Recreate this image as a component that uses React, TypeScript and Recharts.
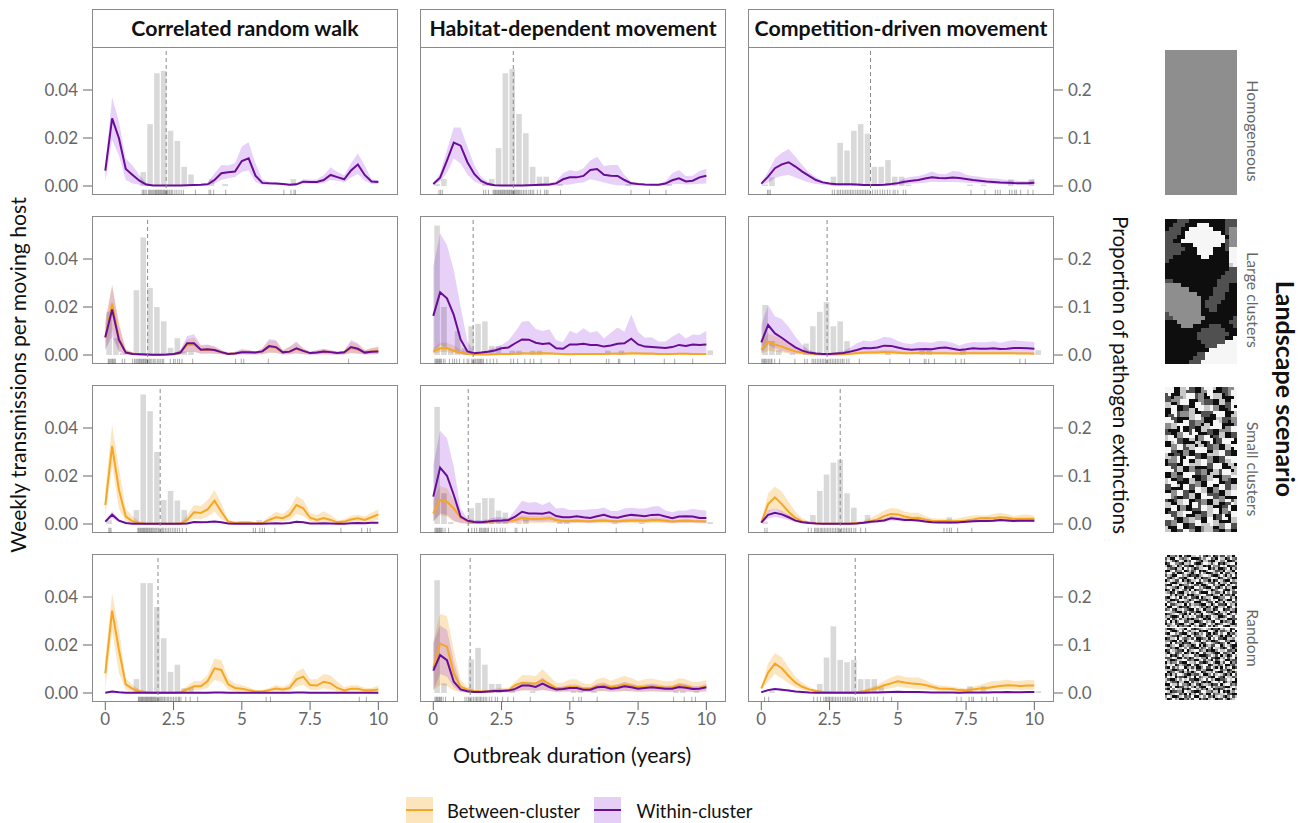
import React from "react";
import {
  Area,
  Bar,
  ComposedChart,
  Line,
  ReferenceLine,
  Scatter,
  ScatterChart,
  XAxis,
  YAxis,
} from "recharts";

const COLS = ["Correlated random walk", "Habitat-dependent movement", "Competition-driven movement"];
const ROWS = ["Homogeneous", "Large clusters", "Small clusters", "Random"];
const LEFT_TICKS = [0, 0.02, 0.04];
const RIGHT_TICKS = [0, 0.1, 0.2];
const X_TICKS = [0, 2.5, 5, 7.5, 10];
const YEARS = [0, 0.25, 0.5, 0.75, 1, 1.25, 1.5, 1.75, 2, 2.25, 2.5, 2.75, 3, 3.25, 3.5, 3.75, 4, 4.25, 4.5, 4.75, 5, 5.25, 5.5, 5.75, 6, 6.25, 6.5, 6.75, 7, 7.25, 7.5, 7.75, 8, 8.25, 8.5, 8.75, 9, 9.25, 9.5, 9.75, 10];
const BINS = [0.125, 0.375, 0.625, 0.875, 1.125, 1.375, 1.625, 1.875, 2.125, 2.375, 2.625, 2.875, 3.125, 3.375, 3.625, 3.875, 4.125, 4.375, 4.625, 4.875, 5.125, 5.375, 5.625, 5.875, 6.125, 6.375, 6.625, 6.875, 7.125, 7.375, 7.625, 7.875, 8.125, 8.375, 8.625, 8.875, 9.125, 9.375, 9.625, 9.875, 10.125];
const RUG_LEVEL = -0.0026;

const medians = [
  [2.23, 2.93, 4.0],
  [1.55, 1.46, 2.41],
  [2.01, 1.28, 2.89],
  [1.93, 1.35, 3.44],
];

// row 1, correlated random walk
const crwHomWMean = [.0064,.0282,.0199,.0071,.0046,.0022,.0006,.0002,.0002,.0002,.0002,.0002,.0003,.0004,.0005,.0007,.0025,.0053,.0057,.006,.0104,.0115,.0043,.0013,.0011,.001,.0008,.0005,.0007,.0018,.0017,.0017,.0025,.0046,.0037,.0028,.0065,.009,.0046,.0019,.0017];
const crwHomWHigh = [.0085,.037,.0268,.0115,.0085,.0045,.0012,.0004,.0004,.0004,.0004,.0004,.0004,.0006,.0008,.0015,.0052,.0088,.0085,.0095,.0165,.0182,.0095,.0027,.0017,.0015,.0013,.0008,.001,.0028,.0027,.0027,.0045,.0078,.0058,.0045,.0095,.0135,.0085,.0028,.0024];
const crwHomWLow = [.0018,.0192,.0127,.0025,.001,.0005,.0001,.0001,.0001,.0001,.0001,.0001,.0001,.0001,.0001,.0004,.001,.0025,.0032,.0037,.0058,.0065,.0017,.0005,.0005,.0005,.0004,.0002,.0003,.0009,.0009,.0008,.0012,.0025,.0022,.0015,.0035,.005,.0022,.0008,.0008];
const crwHomBars = [[1.375,.029],[1.625,.129],[1.875,.235],[2.125,.24],[2.375,.115],[2.625,.094],[2.875,.04],[3.125,.024],[3.875,.014],[4.375,.004],[6.875,.0146]];
const crwHomRug = [1.35,1.4,1.45,1.5,1.58,1.62,1.66,1.7,1.74,1.78,1.82,1.85,1.88,1.92,1.95,1.99,2.02,2.06,2.1,2.13,2.17,2.2,2.24,2.28,2.33,2.37,2.42,2.47,2.55,2.62,2.7,2.78,2.86,3.3,3.8,3.86,3.97,4.41,6.54,6.8,6.91,6.96];

// row 1, habitat-dependent
const habHomWMean = [.0008,.0035,.0106,.0181,.0168,.0099,.005,.0021,.0008,.0003,.0002,.0002,.0002,.0002,.0003,.0004,.0005,.0006,.0011,.0028,.0036,.0036,.0042,.0067,.0071,.0047,.0043,.0042,.0025,.0011,.0008,.0006,.0005,.0005,.001,.0024,.0032,.0019,.0022,.0036,.0043];
const habHomWHigh = [.0011,.0053,.015,.0244,.0244,.0164,.0087,.0039,.0018,.0006,.0004,.0004,.0004,.0004,.0006,.0009,.0012,.0013,.002,.0053,.0067,.006,.0074,.0106,.0122,.0083,.0087,.0087,.0046,.0018,.0011,.0008,.0008,.0008,.0019,.0053,.0067,.0042,.0043,.0062,.0072];
const habHomWLow = [.0004,.002,.0055,.0115,.0094,.0048,.0019,.0007,.0002,.0001,.0001,.0001,.0001,.0001,.0001,.0001,.0001,.0001,.0002,.0005,.0006,.0011,.0015,.0028,.0022,.0015,.0007,.0003,.0002,.0002,.0002,.0002,.0001,.0001,.0002,.0007,.0008,.0006,.0007,.0009,.001];
const habHomBars = [[.125,.004],[.375,.0146],[1.875,.005],[2.125,.0146],[2.375,.079],[2.625,.235],[2.875,.244],[3.125,.15],[3.375,.11],[3.625,.04],[3.875,.0195],[4.125,.0195],[4.625,.004],[7.125,.004],[8.625,.004]];
const habHomRug = [.21,.27,.33,1.84,1.92,2.02,2.19,2.23,2.27,2.3,2.34,2.38,2.41,2.45,2.48,2.52,2.55,2.59,2.62,2.66,2.7,2.73,2.77,2.8,2.84,2.87,2.91,2.95,2.98,3.02,3.06,3.1,3.14,3.18,3.24,3.3,3.36,3.42,3.5,3.56,3.62,3.68,3.81,3.92,4.08,4.14,4.2,4.66,7.24,7.92,8.52];

// row 1, competition-driven
const compHomWMean = [.001,.0039,.0074,.009,.0099,.0081,.006,.0042,.0025,.0015,.001,.0007,.0007,.0007,.0006,.0004,.0004,.0004,.0005,.0008,.0012,.0018,.0022,.0025,.0031,.0036,.0033,.0032,.0035,.0033,.0029,.0025,.0022,.0019,.0017,.0015,.0014,.0012,.0011,.0011,.0014];
const compHomWHigh = [.0012,.006,.0115,.0139,.0154,.0122,.0087,.0056,.0036,.0022,.0012,.0009,.0009,.0009,.0008,.0006,.0006,.0006,.0007,.0011,.0018,.0032,.0039,.0042,.0049,.006,.005,.0049,.0062,.006,.0047,.0042,.0039,.0033,.0032,.0029,.0025,.0024,.0021,.0021,.0028];
const compHomWLow = [.0004,.0015,.0033,.0042,.0046,.0035,.0024,.0015,.0008,.0005,.0003,.0003,.0003,.0003,.0003,.0002,.0002,.0002,.0003,.0003,.0004,.0007,.0009,.0011,.0014,.0018,.0017,.0017,.0017,.0016,.0014,.0012,.001,.0009,.0008,.0007,.0006,.0006,.0005,.0005,.0006];
const compHomBars = [[.125,.003],[.375,.018],[2.625,.0195],[2.875,.09],[3.125,.074],[3.375,.115],[3.625,.129],[3.875,.109],[4.125,.04],[4.375,.04],[4.625,.054],[4.875,.0195],[5.125,.0195],[5.375,.003],[7.625,.003],[8.125,.003],[9.125,.014],[9.875,.014]];
const compHomRug = [.23,.28,.33,2.6,2.68,2.78,2.84,2.9,2.97,3.03,3.09,3.15,3.21,3.27,3.33,3.39,3.46,3.52,3.58,3.64,3.7,3.76,3.82,3.88,3.95,4.07,4.17,4.25,4.35,4.44,4.52,4.62,4.71,4.83,4.9,5.0,5.2,5.29,7.68,8.19,8.57,8.66,8.75,9.09,9.18,9.28,9.34,9.5,9.77,9.95];

// row 2, correlated random walk
const crwLargeWMean = [.0074,.019,.0063,.001,.0004,.0003,.0002,.0001,.0001,.0002,.0004,.001,.0049,.0049,.0022,.0024,.0021,.0012,.0004,.0006,.0011,.0011,.001,.0015,.0037,.0033,.0011,.0014,.0028,.0017,.0008,.001,.0015,.0012,.0008,.0011,.0033,.0026,.001,.0014,.0015];
const crwLargeWHigh = [.0132,.0288,.0125,.0021,.001,.0006,.0004,.0003,.0003,.0004,.0006,.0021,.0079,.0086,.0042,.0044,.0035,.0021,.001,.0014,.0025,.0021,.0014,.0028,.0067,.0063,.0021,.0035,.0056,.0028,.0014,.0021,.0026,.0021,.0014,.0018,.0063,.0049,.0021,.0028,.0032];
const crwLargeWLow = [.002,.0076,.0014,.0002,.0001,.0001,.0001,.0001,.0001,.0001,.0001,.0003,.0014,.0014,.0006,.0006,.0005,.0003,.0001,.0001,.0003,.0002,.0002,.0003,.001,.0009,.0002,.0003,.0007,.0003,.0001,.0002,.0003,.0002,.0001,.0002,.0008,.0006,.0002,.0003,.0003];
const crwLargeBMean = [.0072,.0215,.0069,.0012,.0005,.0003,.0002,.0001,.0001,.0002,.0003,.0009,.0042,.0043,.0021,.0022,.002,.0011,.0004,.0006,.0011,.001,.001,.0014,.0033,.003,.0011,.0014,.0026,.0016,.0008,.001,.0014,.0011,.0008,.001,.0028,.0023,.001,.0015,.0018];
const crwLargeBHigh = [.014,.0296,.0135,.0025,.0011,.0006,.0004,.0003,.0003,.0004,.0006,.002,.0065,.0072,.0038,.0042,.0035,.002,.0009,.0013,.0023,.002,.0014,.0026,.006,.0058,.0018,.0033,.0052,.0027,.0013,.002,.0025,.002,.0013,.002,.0055,.0045,.002,.003,.0036];
const crwLargeBLow = [.0022,.0105,.0017,.0003,.0001,.0001,.0001,.0001,.0001,.0001,.0001,.0003,.0012,.0012,.0005,.0006,.0005,.0003,.0001,.0001,.0003,.0002,.0002,.0003,.0009,.0008,.0002,.0003,.0006,.0003,.0001,.0002,.0003,.0002,.0001,.0002,.0007,.0005,.0002,.0003,.0004];
const crwLargeBars = [[.125,.09],[.375,.035],[.625,.004],[1.125,.135],[1.375,.245],[1.625,.14],[1.875,.1],[2.125,.07],[2.375,.015],[2.625,.035],[2.875,.007],[3.125,.007]];
const crwLargeRug = [.11,.14,.18,.22,.26,.29,.33,.37,.62,.71,1.0,1.07,1.12,1.16,1.2,1.24,1.27,1.31,1.34,1.38,1.41,1.45,1.48,1.52,1.55,1.6,1.64,1.68,1.75,1.79,1.85,1.92,1.97,2.03,2.09,2.14,2.38,2.5,2.56,2.65,2.72,2.81,3.2,4.77,4.98,5.07,5.97,8.91];

// row 2, habitat-dependent
const habLargeWMean = [.0163,.0261,.0236,.0167,.0065,.0015,.0007,.001,.0014,.0019,.0028,.0031,.0049,.0065,.0064,.0051,.0046,.0049,.0028,.0026,.0044,.0044,.0047,.0042,.0042,.0035,.004,.0047,.0049,.0068,.0044,.0035,.0033,.0031,.0029,.0033,.0042,.0038,.0044,.0042,.0044];
const habLargeWHigh = [.0368,.0507,.0458,.0354,.0201,.0056,.0014,.0011,.0021,.0031,.0042,.006,.0097,.0139,.0142,.0108,.01,.0107,.0063,.0053,.0101,.009,.0111,.0093,.01,.0069,.0093,.0115,.0097,.0169,.0097,.0072,.0074,.0056,.0056,.0076,.0093,.0069,.0085,.0083,.0101];
const habLargeWLow = [.0014,.0042,.0028,.0014,.0005,.0002,.0001,.0002,.0002,.0004,.0005,.0006,.0006,.0007,.001,.001,.0009,.0008,.0008,.0004,.0004,.0008,.0008,.0008,.0007,.0006,.0007,.0008,.0008,.0012,.0007,.0005,.0005,.0005,.0005,.0005,.0007,.0006,.0008,.0008,.0009];
const habLargeBMean = [.0014,.0028,.0028,.0018,.001,.0004,.0002,.0002,.0002,.0003,.0004,.0004,.0005,.0006,.0006,.0006,.0007,.0006,.0005,.0004,.0003,.0004,.0004,.0004,.0004,.0004,.0005,.0005,.0005,.0007,.0006,.0005,.0005,.0004,.0004,.0004,.0005,.0005,.0004,.0004,.0004];
const habLargeBHigh = [.0028,.0051,.0051,.004,.0022,.0009,.0004,.0003,.0004,.0006,.0007,.0008,.0009,.0012,.0012,.0012,.0013,.0012,.0009,.0007,.0006,.0008,.0008,.0008,.0008,.0008,.001,.0011,.001,.0014,.0012,.0012,.0012,.0008,.0007,.0008,.0009,.0009,.0008,.0007,.0007];
const habLargeBLow = [.0005,.0012,.0012,.0006,.0003,.0001,.0001,.0001,.0001,.0001,.0001,.0001,.0001,.0002,.0002,.0002,.0002,.0002,.0001,.0001,.0001,.0001,.0001,.0001,.0001,.0001,.0002,.0002,.0002,.0002,.0002,.0001,.0001,.0001,.0001,.0001,.0001,.0001,.0001,.0001,.0001];
const habLargeBars = [[.125,.27],[.375,.1],[.625,.01],[.875,.05],[1.125,.014],[1.375,.06],[1.625,.065],[1.875,.07],[2.125,.019],[2.375,.019],[2.875,.009],[3.125,.009],[3.625,.009],[3.875,.009],[6.375,.009],[6.875,.009],[10.125,.0097]];
const habLargeRug = [.06,.1,.13,.16,.2,.23,.26,.3,.37,.43,.59,.71,.78,.86,.96,1.12,1.24,1.3,1.41,1.46,1.5,1.55,1.6,1.64,1.68,1.72,1.75,1.79,1.84,1.96,2.08,2.2,2.33,2.84,2.94,3.09,3.35,3.55,3.68,3.95,4.6,5.02,6.34,6.43,6.78,6.83,7.37,8.46,8.84,9.5];

// row 2, competition-driven
const compLargeWMean = [.0053,.0125,.009,.0072,.0051,.0032,.0018,.001,.0006,.0004,.0004,.0006,.0008,.0014,.0021,.0029,.0028,.0031,.0039,.0038,.0031,.0025,.0022,.0024,.0025,.0024,.0029,.0031,.0026,.0021,.0024,.0028,.0026,.0026,.0028,.0025,.0026,.0029,.0029,.0028,.0026];
const compLargeWHigh = [.0125,.0208,.016,.015,.0118,.0076,.0042,.0021,.0011,.0007,.0007,.0011,.0017,.0031,.0049,.006,.0056,.0064,.0076,.0072,.0058,.0049,.0046,.0054,.0053,.0051,.0058,.0057,.0051,.004,.0049,.0054,.0053,.0053,.0057,.0051,.0057,.0061,.0058,.0056,.0054];
const compLargeWLow = [.0007,.0042,.0028,.0017,.001,.0006,.0003,.0002,.0001,.0001,.0001,.0001,.0002,.0003,.0005,.0007,.0007,.0008,.001,.001,.0008,.0006,.0006,.0006,.0006,.0006,.0007,.0007,.0006,.0005,.0006,.0007,.0006,.0006,.0007,.0006,.0006,.0007,.0007,.0007,.0006];
const compLargeBMean = [.0021,.0054,.0044,.0035,.0024,.0015,.001,.0006,.0003,.0002,.0002,.0002,.0003,.0005,.0007,.0009,.001,.001,.0012,.0011,.0009,.0007,.0007,.0008,.0008,.0007,.0007,.0007,.0006,.0006,.0007,.0007,.0007,.0007,.0007,.0007,.0007,.0007,.0006,.0006,.0005];
const compLargeBHigh = [.0056,.009,.0079,.0069,.0051,.0035,.0021,.0012,.0007,.0004,.0004,.0005,.0007,.0011,.0015,.0018,.0019,.002,.0022,.0021,.0018,.0015,.0014,.0016,.0015,.0014,.0014,.0014,.0013,.0012,.0014,.0014,.0014,.0014,.0014,.0014,.0014,.0013,.0012,.0012,.001];
const compLargeBLow = [.0005,.0018,.0014,.001,.0006,.0004,.0002,.0001,.0001,.0001,.0001,.0001,.0001,.0001,.0002,.0002,.0002,.0002,.0002,.0002,.0002,.0002,.0002,.0002,.0002,.0002,.0002,.0002,.0002,.0002,.0002,.0002,.0002,.0002,.0002,.0002,.0002,.0002,.0002,.0002,.0002];
const compLargeBars = [[.125,.104],[.375,.029],[.625,.01],[1.125,.004],[1.625,.024],[1.875,.06],[2.125,.09],[2.375,.11],[2.625,.06],[2.875,.07],[3.125,.029],[4.625,.004],[5.875,.01],[6.125,.01],[7.375,.01],[10.125,.01]];
const compLargeRug = [.02,.06,.1,.13,.17,.21,.26,.31,.36,.39,.49,.67,1.23,1.59,1.68,1.86,1.92,1.98,2.05,2.11,2.17,2.23,2.29,2.35,2.41,2.48,2.54,2.6,2.66,2.72,2.78,2.84,2.91,2.97,3.03,3.13,3.21,3.59,4.71,5.43,5.97,6.03,6.13,6.34,7.12,7.32,7.44,9.47,9.67];

// row 3, correlated random walk
const crwSmallBMean = [.0079,.0325,.0142,.0031,.0011,.0004,.0001,.0001,.0001,.0001,.0001,.0002,.0017,.0049,.0046,.0061,.0097,.0051,.001,.0004,.0006,.0006,.0003,.0004,.0017,.0028,.0024,.0038,.0079,.0065,.0026,.0017,.0025,.0017,.0007,.001,.0019,.0024,.0017,.0028,.004];
const crwSmallBHigh = [.0142,.0413,.0232,.0065,.0031,.001,.0004,.0002,.0002,.0002,.0002,.0004,.0038,.0079,.0075,.01,.0142,.0086,.0017,.0011,.0012,.0012,.0008,.0008,.0031,.0051,.0042,.0065,.0117,.01,.0047,.0038,.0053,.0038,.0017,.0019,.0033,.0039,.0031,.0047,.0061];
const crwSmallBLow = [.0031,.0246,.0065,.001,.0003,.0001,.0001,.0001,.0001,.0001,.0001,.0001,.0005,.0022,.002,.003,.0051,.002,.0004,.0001,.0001,.0001,.0001,.0001,.0006,.0012,.001,.0017,.0042,.0033,.001,.0006,.0009,.0006,.0002,.0003,.0007,.001,.0006,.001,.0018];
const crwSmallWMean = [.001,.0039,.0014,.0004,.0001,.0001,.0001,.0001,.0001,.0001,.0001,.0001,.0002,.0008,.0007,.0008,.001,.0007,.0002,.0001,.0001,.0001,.0001,.0001,.0002,.0003,.0002,.0004,.0009,.0007,.0002,.0002,.0003,.0002,.0001,.0001,.0003,.0004,.0003,.0005,.0005];
const crwSmallWHigh = [.0017,.0053,.002,.0006,.0002,.0002,.0002,.0002,.0002,.0002,.0002,.0002,.0003,.001,.0009,.001,.0013,.0009,.0003,.0002,.0002,.0002,.0002,.0002,.0003,.0004,.0003,.0005,.0011,.0009,.0003,.0003,.0004,.0003,.0002,.0002,.0004,.0005,.0004,.0006,.0007];
const crwSmallWLow = [.0005,.0025,.0008,.0002,.0001,.0001,.0001,.0001,.0001,.0001,.0001,.0001,.0001,.0005,.0004,.0005,.0006,.0004,.0001,.0001,.0001,.0001,.0001,.0001,.0001,.0002,.0001,.0002,.0006,.0004,.0001,.0001,.0002,.0001,.0001,.0001,.0002,.0002,.0002,.0003,.0003];
const crwSmallBars = [[.125,.008],[1.125,.029],[1.375,.27],[1.625,.235],[1.875,.15],[2.125,.05],[2.375,.069],[2.625,.049],[2.875,.029],[5.625,.008]];
const crwSmallRug = [.13,.17,.21,1.19,1.22,1.26,1.29,1.33,1.36,1.4,1.43,1.46,1.5,1.53,1.56,1.6,1.63,1.67,1.7,1.74,1.78,1.82,1.86,1.9,1.95,2,2.05,2.1,2.14,2.2,2.26,2.32,2.38,2.45,2.52,2.58,2.65,2.72,2.82,2.97,5.42,5.5,5.66,5.75,5.83,6.21,8.63,9.39,9.6,9.7];

// row 3, habitat-dependent
const habSmallWMean = [.0114,.0235,.0201,.0121,.0031,.0014,.0008,.0007,.001,.0014,.0015,.0017,.0031,.0051,.0044,.0044,.0043,.0049,.0033,.0028,.0028,.0032,.0028,.0025,.0032,.0038,.0029,.0026,.0033,.0038,.0035,.0032,.0038,.0039,.0031,.0024,.0031,.0032,.0031,.0025,.0025];
const habSmallWHigh = [.0246,.0389,.0357,.0239,.0065,.0024,.0017,.0017,.0019,.0028,.0028,.0024,.0058,.0097,.0089,.0092,.0079,.0093,.0065,.0068,.0058,.0058,.0058,.0061,.0062,.0069,.0054,.0054,.0065,.0068,.0065,.0065,.0072,.0075,.0056,.0049,.0056,.0056,.0064,.0058,.0056];
const habSmallWLow = [.001,.0044,.0038,.0014,.0004,.0002,.0001,.0001,.0002,.0003,.0003,.0004,.0006,.0012,.001,.001,.0009,.0011,.0007,.0006,.0006,.0007,.0006,.0005,.0007,.0008,.0006,.0005,.0007,.0008,.0007,.0007,.0008,.0008,.0006,.0005,.0006,.0006,.0006,.0005,.0005];
const habSmallBMean = [.0044,.01,.0093,.0065,.0026,.0012,.0006,.0006,.0008,.0012,.0012,.0011,.0017,.0026,.0022,.0021,.0022,.0025,.0017,.0012,.0012,.0014,.0012,.0011,.0014,.0015,.0012,.0011,.0014,.0015,.0015,.0014,.0017,.0017,.0014,.001,.0012,.0014,.0012,.0011,.001];
const habSmallBHigh = [.01,.0158,.0149,.01,.0038,.0017,.0009,.0009,.0012,.0018,.0018,.0017,.0025,.0038,.0033,.0033,.0033,.0036,.0026,.0019,.0019,.0021,.0019,.0017,.0021,.0024,.0019,.0017,.0022,.0024,.0024,.0022,.0026,.0026,.0022,.0017,.0019,.0022,.0019,.0017,.0017];
const habSmallBLow = [.0011,.0038,.003,.001,.0003,.0001,.0001,.0001,.0001,.0002,.0002,.0002,.0003,.0005,.0004,.0004,.0004,.0005,.0003,.0003,.0003,.0003,.0003,.0002,.0003,.0003,.0003,.0002,.0003,.0003,.0003,.0003,.0004,.0004,.0003,.0002,.0003,.0003,.0003,.0002,.0002];
const habSmallBars = [[.125,.244],[.375,.064],[.625,.004],[1.375,.033],[1.625,.044],[1.875,.054],[2.125,.054],[2.375,.028],[2.625,.024],[3.125,.003],[3.375,.01],[4.625,.004],[4.875,.004],[6.625,.003],[7.625,.003],[10.125,.004]];
const habSmallRug = [.06,.1,.13,.16,.2,.23,.26,.3,.35,.43,.56,1.29,1.41,1.51,1.59,1.69,1.74,1.78,1.83,1.88,1.92,1.97,2.02,2.14,2.24,2.33,2.45,2.54,2.63,3.0,3.06,3.27,3.41,4.51,4.95,6.7,7.67];

// row 3, competition-driven
const compSmallBMean = [.0006,.0083,.0111,.0083,.0051,.0025,.0011,.0006,.0003,.0001,.0001,.0001,.0001,.0002,.0004,.0006,.0012,.0019,.0033,.0042,.004,.0031,.0025,.0026,.0019,.0014,.0012,.0012,.0011,.0012,.0015,.0019,.0024,.0025,.0024,.0028,.0026,.0021,.0022,.0022,.0022];
const compSmallBHigh = [.001,.0128,.0156,.0135,.0093,.0051,.0024,.0011,.0006,.0003,.0002,.0002,.0003,.0005,.0009,.0015,.0026,.004,.0056,.0067,.0065,.0051,.0047,.0047,.0033,.0024,.0022,.0022,.0021,.0025,.0031,.0035,.0036,.0036,.0042,.0047,.0042,.0033,.0039,.004,.0035];
const compSmallBLow = [.0002,.0046,.0065,.0045,.0025,.0011,.0004,.0002,.0001,.0001,.0001,.0001,.0001,.0001,.0002,.0003,.0005,.001,.0018,.0024,.0022,.0016,.0012,.0012,.0009,.0006,.0005,.0005,.0005,.0005,.0007,.0009,.0011,.0012,.0011,.0014,.0012,.001,.001,.001,.0009];
const compSmallWMean = [.0006,.0038,.0047,.004,.0028,.0014,.0007,.0004,.0002,.0001,.0001,.0001,.0001,.0001,.0002,.0005,.0009,.0011,.0015,.0024,.0021,.0017,.0017,.0015,.001,.0007,.0006,.0006,.0006,.0007,.0009,.0011,.0012,.0012,.0014,.0017,.0015,.0013,.0014,.0014,.0014];
const compSmallWHigh = [.0009,.0057,.0065,.0055,.0039,.0021,.0011,.0006,.0003,.0002,.0002,.0002,.0002,.0002,.0003,.0007,.0013,.0017,.0023,.0033,.003,.0025,.0025,.0023,.0016,.0012,.001,.001,.001,.0011,.0014,.0017,.0019,.0019,.0021,.0024,.0022,.002,.0021,.0021,.0021];
const compSmallWLow = [.0003,.0022,.0029,.0024,.0017,.0008,.0004,.0002,.0001,.0001,.0001,.0001,.0001,.0001,.0001,.0003,.0005,.0006,.0009,.0015,.0013,.001,.001,.0009,.0006,.0004,.0003,.0003,.0003,.0003,.0005,.0006,.0007,.0007,.0008,.001,.0009,.0007,.0008,.0008,.0008];
const compSmallBars = [[.125,.005],[1.875,.019],[2.125,.069],[2.375,.103],[2.625,.128],[2.875,.134],[3.125,.064],[3.375,.034],[3.875,.019],[6.875,.014],[7.125,.002]];
const compSmallRug = [.13,.21,1.72,1.83,1.95,2.0,2.05,2.1,2.16,2.21,2.26,2.32,2.37,2.43,2.48,2.54,2.6,2.66,2.72,2.78,2.83,2.88,2.94,3.0,3.06,3.12,3.18,3.24,3.3,3.39,3.46,3.64,3.82,6.69,6.8,6.89,6.96,7.19,7.71];

// row 4, correlated random walk
const crwRandBMean = [.0082,.0343,.0179,.0036,.0017,.0007,.0003,.0001,.0001,.0001,.0001,.0003,.0015,.0028,.0028,.005,.0103,.0096,.0036,.0021,.0018,.0012,.0006,.0006,.0012,.0019,.0015,.0021,.0057,.0068,.0033,.0031,.0047,.004,.0021,.0011,.0018,.0018,.0011,.0011,.0015];
const crwRandBHigh = [.0143,.0415,.0263,.0061,.0033,.0015,.0008,.0003,.0002,.0002,.0003,.0008,.0029,.005,.005,.0075,.0144,.0138,.0061,.004,.0033,.0024,.0012,.0011,.0021,.0033,.0026,.004,.0089,.0103,.0057,.0057,.0079,.0074,.0047,.0024,.0032,.0032,.0022,.0021,.0031];
const crwRandBLow = [.0012,.0263,.0082,.0012,.0007,.0002,.0001,.0001,.0001,.0001,.0001,.0001,.0006,.0012,.0012,.0022,.0054,.0047,.0014,.0008,.0007,.0005,.0002,.0002,.0005,.0008,.0006,.0009,.0026,.0034,.0014,.0013,.002,.0015,.0007,.0003,.0007,.0007,.0003,.0003,.0006];
const crwRandWMean = [.0001,.0006,.0003,.0001,.0001,.0001,.0001,.0001,.0001,.0001,.0001,.0001,.0001,.0001,.0001,.0001,.0002,.0002,.0001,.0001,.0001,.0001,.0001,.0001,.0001,.0001,.0001,.0001,.0002,.0002,.0001,.0001,.0001,.0001,.0001,.0001,.0001,.0001,.0001,.0001,.0001];
const crwRandWHigh = [.0002,.0009,.0005,.0002,.0002,.0002,.0002,.0002,.0002,.0002,.0002,.0002,.0002,.0002,.0002,.0002,.0003,.0003,.0002,.0002,.0002,.0002,.0002,.0002,.0002,.0002,.0002,.0002,.0003,.0003,.0002,.0002,.0002,.0002,.0002,.0002,.0002,.0002,.0002,.0002,.0002];
const crwRandWLow = [.0001,.0003,.0001,.0001,.0001,.0001,.0001,.0001,.0001,.0001,.0001,.0001,.0001,.0001,.0001,.0001,.0001,.0001,.0001,.0001,.0001,.0001,.0001,.0001,.0001,.0001,.0001,.0001,.0001,.0001,.0001,.0001,.0001,.0001,.0001,.0001,.0001,.0001,.0001,.0001,.0001];
const crwRandBars = [[1.125,.029],[1.375,.229],[1.625,.229],[1.875,.179],[2.125,.114],[2.375,.044],[2.625,.059],[2.875,.01],[3.125,.012],[3.375,.003]];
const crwRandRug = [1.21,1.24,1.27,1.3,1.33,1.36,1.39,1.42,1.45,1.48,1.51,1.54,1.57,1.6,1.63,1.66,1.69,1.72,1.75,1.78,1.81,1.84,1.88,1.92,1.96,2.0,2.04,2.08,2.12,2.17,2.22,2.27,2.32,2.38,2.44,2.5,2.56,2.62,2.68,2.72,2.77,2.95,3.11,3.38,5.89,6.05,9.3,9.56];

// row 4, habitat-dependent
const habRandBMean = [.0103,.0206,.0193,.0082,.0026,.0015,.0008,.0006,.0007,.001,.0011,.0011,.0033,.0043,.004,.004,.0054,.0038,.0021,.0021,.0025,.0025,.0019,.0019,.0029,.0032,.0025,.0029,.0035,.0031,.0024,.0026,.0029,.0025,.0022,.0024,.0033,.0029,.0021,.0022,.0026];
const habRandBHigh = [.0214,.0329,.0321,.0179,.0054,.0026,.0012,.001,.0012,.0018,.0022,.0022,.0047,.0075,.0074,.0071,.01,.0071,.0043,.0043,.0057,.0057,.004,.0038,.0058,.0065,.0051,.0061,.0071,.0063,.005,.0057,.006,.0054,.0049,.0049,.0063,.0057,.0046,.0047,.0054];
const habRandBLow = [.0012,.0033,.0029,.001,.0004,.0002,.0001,.0001,.0002,.0003,.0003,.0003,.0006,.001,.001,.001,.0013,.0009,.0005,.0006,.0006,.0006,.0005,.0005,.0007,.0008,.0006,.0007,.0008,.0007,.0005,.0006,.0007,.0006,.0005,.0005,.0008,.0006,.0005,.0005,.0006];
const habRandWMean = [.0093,.0158,.0137,.0047,.0015,.0007,.0004,.0004,.0006,.0008,.0008,.001,.0017,.0031,.0031,.0025,.0039,.0025,.0015,.0017,.0021,.0021,.0014,.0014,.0024,.0026,.0018,.0021,.0028,.0024,.0018,.0021,.0024,.0021,.0018,.0018,.0025,.0022,.0017,.0018,.0024];
const habRandWHigh = [.0207,.0281,.0263,.0131,.0033,.0015,.0008,.0007,.0009,.0013,.0014,.0015,.0027,.0047,.0047,.0042,.0065,.004,.0024,.0028,.0035,.0035,.0024,.0024,.004,.0044,.0031,.0036,.0047,.004,.0031,.0035,.004,.0035,.003,.0031,.0043,.0037,.0028,.0029,.0039];
const habRandWLow = [.001,.0079,.0068,.0024,.0004,.0002,.0001,.0001,.0002,.0002,.0002,.0003,.0005,.0011,.0011,.0008,.0012,.0008,.0004,.0005,.0006,.0006,.0004,.0004,.0007,.0008,.0005,.0006,.0008,.0007,.0005,.0006,.0007,.0006,.0005,.0005,.0007,.0006,.0005,.0005,.0007];
const habRandBars = [[.125,.235],[.375,.02],[1.375,.07],[1.625,.094],[1.875,.059],[2.125,.019],[2.375,.019],[2.875,.007],[3.625,.004],[5.125,.004],[5.375,.004],[5.875,.004],[8.875,.004],[9.125,.004],[9.625,.004]];
const habRandRug = [.06,.1,.13,.16,.2,.23,.26,.3,.36,.45,.74,1.16,1.23,1.29,1.35,1.41,1.47,1.53,1.58,1.63,1.68,1.73,1.78,1.84,1.9,1.96,2.05,2.14,2.27,2.35,2.54,2.73,2.94,3.55,5.12,5.33,5.42,6.0,8.8,9.19,9.47,9.6];

// row 4, competition-driven
const compRandBMean = [.0019,.0085,.0122,.0103,.0071,.0043,.0026,.0015,.0008,.0004,.0003,.0002,.0002,.0002,.0003,.0007,.0014,.0021,.0032,.004,.0049,.0044,.004,.0038,.0033,.0026,.0019,.0018,.0017,.0012,.0011,.0015,.0019,.0021,.0025,.0029,.0032,.0031,.0029,.0031,.0031];
const compRandBHigh = [.0022,.0124,.0167,.0149,.0107,.0068,.0043,.0026,.0015,.0009,.0005,.0004,.0004,.0005,.0007,.0013,.0023,.0033,.0051,.0065,.0075,.0068,.0065,.0065,.0054,.004,.0032,.0029,.0026,.0022,.0019,.0026,.0033,.0043,.005,.0051,.0056,.0051,.0051,.0054,.0053];
const compRandBLow = [.0014,.0047,.0079,.0061,.004,.0024,.0014,.0007,.0003,.0002,.0001,.0001,.0001,.0001,.0002,.0003,.0006,.001,.0016,.002,.0027,.0022,.0019,.0017,.0015,.0012,.0009,.0008,.0008,.0005,.0005,.0006,.0008,.001,.0012,.0014,.0016,.0015,.0013,.0014,.0014];
const compRandWMean = [.0003,.0012,.0017,.0014,.001,.0006,.0004,.0002,.0001,.0001,.0001,.0001,.0001,.0001,.0001,.0001,.0002,.0002,.0003,.0004,.0005,.0004,.0004,.0004,.0003,.0002,.0002,.0002,.0002,.0001,.0002,.0002,.0002,.0002,.0003,.0003,.0004,.0003,.0003,.0004,.0004];
const compRandWHigh = [.0005,.0016,.0022,.0019,.0014,.0009,.0006,.0003,.0002,.0002,.0002,.0002,.0002,.0002,.0002,.0002,.0003,.0003,.0004,.0006,.0007,.0006,.0006,.0006,.0005,.0003,.0003,.0003,.0003,.0002,.0003,.0003,.0003,.0003,.0005,.0005,.0006,.0005,.0005,.0006,.0006];
const compRandWLow = [.0002,.0008,.0012,.001,.0007,.0004,.0002,.0001,.0001,.0001,.0001,.0001,.0001,.0001,.0001,.0001,.0001,.0001,.0002,.0002,.0003,.0002,.0002,.0002,.0002,.0001,.0001,.0001,.0001,.0001,.0001,.0001,.0001,.0001,.0002,.0002,.0002,.0002,.0002,.0002,.0002];
const compRandBars = [[.375,.004],[2.125,.019],[2.375,.074],[2.625,.139],[2.875,.069],[3.125,.064],[3.375,.069],[3.625,.029],[3.875,.029],[4.125,.029],[4.375,.012],[7.625,.014],[8.125,.014],[10.125,.004]];
const compRandRug = [.12,.27,1.92,2.05,2.17,2.29,2.35,2.39,2.44,2.48,2.51,2.56,2.61,2.66,2.72,2.78,2.84,2.9,2.97,3.03,3.09,3.15,3.21,3.27,3.33,3.39,3.52,3.62,3.7,3.8,3.88,4.01,4.13,4.25,4.47,4.77,7.16,7.32,7.61,7.71,7.77,8.08,8.24,8.5,8.63];

// landscape rasters, one digit per cell: 0 black .. 4 white
const GREYS = ["#0e0e0e", "#505050", "#8e8e8e", "#c8c8c8", "#f6f6f6"];
const mapHom = ["2"];
const mapLarge = [
  "000111000000000111",
  "001110004440000111",
  "011100444444000122",
  "111104444444440122",
  "111004444444444022",
  "110044444444444122",
  "111100044444440122",
  "111110004444000144",
  "111100004444000044",
  "110000000440000044",
  "100000000000000044",
  "000000000000000034",
  "000000000000000011",
  "000000000000000111",
  "000000000000001111",
  "110000000000011111",
  "222200000000011100",
  "222222000000111100",
  "222222220000111000",
  "222222222001111000",
  "222222222011110000",
  "222222222011100000",
  "222222222001100000",
  "122222222000000000",
  "112222222200000001",
  "000222222000000011",
  "000022200001110001",
  "000000000111111000",
  "000000001111111100",
  "000000001111111004",
  "000000000111111444",
  "000000000011144444",
  "000000000004444444",
  "000000001144444444",
  "000000011144444444",
  "000000111444444444",
];
const mapSmall = [
  "444003341100244430011224",
  "444003311100224400011244",
  "140003344412204433301244",
  "110222344412200433300004",
  "112224440002211100330044",
  "330024440044211100331144",
  "334400110044433422001140",
  "004400113304433422000144",
  "004412223300111144440003",
  "011412223344111004440033",
  "441100003344200003311122",
  "444100441122200044311022",
  "223344441122033044400002",
  "223304001100333444402244",
  "100004001400331100222244",
  "110022441440001100330011",
  "344022444402244011330011",
  "344411003302244401144440",
  "003411000033001401144400",
  "002244133303301122003344",
  "442244113344441122003304",
  "441100220044440033441100",
  "300110220011003333441100",
  "332240044411002200114444",
  "022240440033442200113344",
  "011100443333441144400330",
  "441133002200001144400033",
  "444133002211220033144403",
  "002200444411220333144433",
  "002211444000113300022244",
  "340011003300113344022100",
  "344400003322004444001100",
  "114430441122004400441133",
  "110000441144330022441133",
  "002244110044330022003344",
  "442244113300441111003344",
  "442100113300444411220000",
  "100133440011220033224413",
  "330033440441220033001143",
  "334402200441443300011400",
  "004402200111443344022400",
  "011133444000113344022144",
  "441133400022113301140044",
  "444100223322004401144033",
  "112200223344004433000033",
  "112244001144333433224411",
  "300044001100233300224411",
  "330011442200233311002200",
];
const mapRandom = [
  "402213041003342410240131142304",
  "130044212340001324412043301421",
  "243101430214421033100342240013",
  "014422103324100244313401023440",
  "301340241100423301042214340112",
  "421103304242013344021300124031",
  "003412240131240102443112043204",
  "244130014320341420013240411330",
  "132004423101102344310024203141",
  "410243110344023011244301342200",
  "024311402013341422030143100423",
  "341002343120400134211403224011",
  "100434012243113002441320041342",
  "243210340110442310034102413300",
  "014033421304012243301244100324",
  "320141003242341000423113042411",
  "441302214010223441102340311204",
  "103424031341104023340012244130",
  "230011443202431110243401320041",
  "412340102134000342114023043312",
  "041123340413221004302411104230",
  "300442011024343120141033240142",
  "124103342100413402230144011320",
  "443210031421200341102403324010",
  "012344210304132044321011430242",
  "231001403243411020143300124314",
  "304124132010224301044213340011",
  "140302441133001242310440212304",
  "022411003420341103423012443101",
  "413340212104230014130244100332",
  "200134320441012343201103244014",
  "341002414213340100442031123040",
  "104423100342013241030142440213",
  "432110243004122340114320301042",
  "013340421231400123042411003324",
  "221004130344210431200134412003",
  "340412201103342014432101240341",
  "102344013220140302311440243100",
  "431200342411003124204331014202",
  "014321104023441230100243341120",
  "203411240130204413321004112304",
  "340102413344120001243140320142",
  "112430031201434220411003241340",
  "420013344112003413204124300211",
  "031224100433241101342003144021",
  "243401321004102344013312400213",
  "104132440231300241142030413401",
  "332001214043411320003441220134",
  "401243103120244013324100341202",
  "020314431002113400241343102041",
  "143402110324041233100421043312",
  "310024243411002341423001124340",
  "242110330041324101034424013200",
  "004331422103410233201140344121",
  "321400113242031004413222100343",
  "104243301014423120340101243402",
  "430112204331001442213304010324",
  "012344120403241130041223341100",
  "243001341214003424120343102413",
  "301423002131440210343011420234",
];

const LANDSCAPES = [mapHom, mapLarge, mapSmall, mapRandom];
const MAP_TOPS = [50, 219, 387, 555];
const table = [
  [
    { wm: crwHomWMean, wh: crwHomWHigh, wl: crwHomWLow, bars: crwHomBars, rug: crwHomRug },
    { wm: habHomWMean, wh: habHomWHigh, wl: habHomWLow, bars: habHomBars, rug: habHomRug },
    { wm: compHomWMean, wh: compHomWHigh, wl: compHomWLow, bars: compHomBars, rug: compHomRug },
  ],
  [
    { wm: crwLargeWMean, wh: crwLargeWHigh, wl: crwLargeWLow, bm: crwLargeBMean, bh: crwLargeBHigh, bl: crwLargeBLow, bars: crwLargeBars, rug: crwLargeRug },
    { wm: habLargeWMean, wh: habLargeWHigh, wl: habLargeWLow, bm: habLargeBMean, bh: habLargeBHigh, bl: habLargeBLow, bars: habLargeBars, rug: habLargeRug },
    { wm: compLargeWMean, wh: compLargeWHigh, wl: compLargeWLow, bm: compLargeBMean, bh: compLargeBHigh, bl: compLargeBLow, bars: compLargeBars, rug: compLargeRug },
  ],
  [
    { wm: crwSmallWMean, wh: crwSmallWHigh, wl: crwSmallWLow, bm: crwSmallBMean, bh: crwSmallBHigh, bl: crwSmallBLow, bars: crwSmallBars, rug: crwSmallRug },
    { wm: habSmallWMean, wh: habSmallWHigh, wl: habSmallWLow, bm: habSmallBMean, bh: habSmallBHigh, bl: habSmallBLow, bars: habSmallBars, rug: habSmallRug },
    { wm: compSmallWMean, wh: compSmallWHigh, wl: compSmallWLow, bm: compSmallBMean, bh: compSmallBHigh, bl: compSmallBLow, bars: compSmallBars, rug: compSmallRug },
  ],
  [
    { wm: crwRandWMean, wh: crwRandWHigh, wl: crwRandWLow, bm: crwRandBMean, bh: crwRandBHigh, bl: crwRandBLow, bars: crwRandBars, rug: crwRandRug },
    { wm: habRandWMean, wh: habRandWHigh, wl: habRandWLow, bm: habRandBMean, bh: habRandBHigh, bl: habRandBLow, bars: habRandBars, rug: habRandRug },
    { wm: compRandWMean, wh: compRandWHigh, wl: compRandWLow, bm: compRandBMean, bh: compRandBHigh, bl: compRandBLow, bars: compRandBars, rug: compRandRug },
  ],
];

const ORANGE = "#f5a623";
const PURPLE = "#6a0d96";
const FONT = "Lato, sans-serif";
const PANEL_X = [92, 420, 748];
const PANEL_Y = [47, 216, 385, 554];
const PANEL_W = 306;
const PANEL_H = 148;
const AXIS_L = 60;
const AXIS_R = 50;
const AXIS_B = 32;
const X_DOMAIN = [-0.487, 10.72];

// one row per week index: the series use x, the histogram uses its own bin key
function buildRows(p: any) {
  const props = new Map(p.bars.map(([bin, prop]: number[]) => [bin, prop]));
  return YEARS.map((x, i) => ({
    x,
    bin: BINS[i],
    prop: props.get(BINS[i]),
    wMean: p.wm[i],
    wBand: [p.wl[i], p.wh[i]],
    bMean: p.bm ? p.bm[i] : undefined,
    bBand: p.bm ? [p.bl[i], p.bh[i]] : undefined,
  }));
}

const RugMark = (props: any) => (
  <rect x={props.cx - 0.5} y={props.cy - 2.5} width={1} height={5} fill="#000" fillOpacity={0.33} />
);

function Panel({ row, col }: { row: number; col: number }) {
  const p: any = table[row][col];
  const left = col === 0 ? AXIS_L : 0;
  const right = col === 2 ? AXIS_R : 0;
  const bottom = row === 3 ? AXIS_B : 0;
  const tickStyle = { fill: "#666", fontSize: 17, fontFamily: FONT };
  const rug = p.rug.map((rx: number) => ({ rx, rug: RUG_LEVEL }));
  return (
    <>
      <div
        style={{
          position: "absolute",
          left: PANEL_X[col],
          top: PANEL_Y[row],
          width: PANEL_W,
          height: PANEL_H,
          boxSizing: "border-box",
          border: "1px solid #8a8a8a",
        }}
      />
      <div style={{ position: "absolute", left: PANEL_X[col] - left, top: PANEL_Y[row] }}>
        <ComposedChart
          width={PANEL_W + left + right}
          height={PANEL_H + bottom}
          data={buildRows(p)}
          margin={{ top: 0, right: 0, bottom: 0, left: 0 }}
        >
          <XAxis
            dataKey="x"
            type="number"
            domain={X_DOMAIN}
            allowDataOverflow
            ticks={X_TICKS}
            interval={0}
            hide={row !== 3}
            height={AXIS_B}
            tick={tickStyle}
            tickSize={8}
            tickMargin={3}
            tickLine={{ stroke: "#666" }}
            axisLine={false}
          />
          <XAxis xAxisId="bin" dataKey="bin" type="number" domain={X_DOMAIN} allowDataOverflow hide />
          <XAxis xAxisId="rug" dataKey="rx" type="number" domain={X_DOMAIN} allowDataOverflow hide />
          <YAxis
            yAxisId="left"
            type="number"
            domain={[-0.00375, 0.05792]}
            allowDataOverflow
            ticks={LEFT_TICKS}
            interval={0}
            hide={col !== 0}
            width={AXIS_L}
            tick={tickStyle}
            tickFormatter={(v: number) => v.toFixed(2)}
            tickSize={9}
            tickMargin={5}
            tickLine={{ stroke: "#666" }}
            axisLine={false}
          />
          <YAxis
            yAxisId="right"
            orientation="right"
            type="number"
            domain={[-0.01875, 0.2896]}
            allowDataOverflow
            ticks={RIGHT_TICKS}
            interval={0}
            hide={col !== 2}
            width={AXIS_R}
            tick={tickStyle}
            tickFormatter={(v: number) => v.toFixed(1)}
            tickSize={9}
            tickMargin={5}
            tickLine={{ stroke: "#666" }}
            axisLine={false}
          />
          <Bar xAxisId="bin" yAxisId="right" dataKey="prop" fill="#000" fillOpacity={0.15} barSize={5.6} isAnimationActive={false} />
          <Scatter xAxisId="rug" yAxisId="left" data={rug} dataKey="rug" shape={RugMark} isAnimationActive={false} />
          {p.bm && (
            <Area yAxisId="left" dataKey="bBand" stroke="none" fill={ORANGE} fillOpacity={0.28} dot={false} activeDot={false} isAnimationActive={false} />
          )}
          <Area yAxisId="left" dataKey="wBand" stroke="none" fill="#9a3fe0" fillOpacity={0.24} dot={false} activeDot={false} isAnimationActive={false} />
          {p.bm && (
            <Line yAxisId="left" dataKey="bMean" stroke={ORANGE} strokeWidth={2} dot={false} activeDot={false} isAnimationActive={false} />
          )}
          <Line yAxisId="left" dataKey="wMean" stroke={PURPLE} strokeWidth={2} dot={false} activeDot={false} isAnimationActive={false} />
          <ReferenceLine yAxisId="left" x={medians[row][col]} stroke="#8a8a8a" strokeWidth={1} strokeDasharray="4 3" />
        </ComposedChart>
      </div>
    </>
  );
}

function Landscape({ grid, top }: { grid: string[]; top: number }) {
  const w = 72;
  const h = 145;
  const cw = w / grid[0].length;
  const ch = h / grid.length;
  const cells: any[] = [];
  grid.forEach((line, r) =>
    line.split("").forEach((d, c) => cells.push({ c: c + 0.5, r: r + 0.5, level: Number(d) })),
  );
  // snap to whole pixels so neighbouring cells leave no seams
  const Cell = (props: any) => {
    const x0 = Math.round(props.cx - cw / 2);
    const x1 = Math.round(props.cx + cw / 2);
    const y0 = Math.round(props.cy - ch / 2);
    const y1 = Math.round(props.cy + ch / 2);
    return <rect x={x0} y={y0} width={x1 - x0} height={y1 - y0} fill={GREYS[props.payload.level]} />;
  };
  return (
    <div style={{ position: "absolute", left: 1165, top }}>
      <ScatterChart width={w} height={h} margin={{ top: 0, right: 0, bottom: 0, left: 0 }}>
        <XAxis dataKey="c" type="number" domain={[0, grid[0].length]} hide />
        <YAxis dataKey="r" type="number" domain={[0, grid.length]} reversed hide />
        <Scatter data={cells} shape={Cell} isAnimationActive={false} />
      </ScatterChart>
    </div>
  );
}

function Label({ text, x, y, size, rotate = 0, color = "#111", weight = 400 }: any) {
  return (
    <div
      style={{
        position: "absolute",
        left: x,
        top: y,
        transform: `translate(-50%, -50%) rotate(${rotate}deg)`,
        fontFamily: FONT,
        fontSize: size,
        fontWeight: weight,
        color,
        whiteSpace: "nowrap",
      }}
    >
      {text}
    </div>
  );
}

function LegendKey({ x, color, fill }: { x: number; color: string; fill: string }) {
  return (
    <div style={{ position: "absolute", left: x, top: 797, width: 27, height: 26, background: fill }}>
      <div style={{ position: "absolute", left: 0, right: 0, top: 12, height: 2, background: color }} />
    </div>
  );
}

export default function App() {
  return (
    <div style={{ position: "absolute", left: 0, top: 0, width: 1305, height: 823, overflow: "hidden", background: "#fff" }}>
      {COLS.map((title, c) => (
        <div
          key={title}
          style={{
            position: "absolute",
            left: PANEL_X[c],
            top: 9,
            width: PANEL_W,
            height: 39,
            boxSizing: "border-box",
            border: "1px solid #8a8a8a",
            borderBottom: "1.5px solid #555",
            fontFamily: FONT,
            fontWeight: 700,
            fontSize: 21.3,
            lineHeight: "36px",
            textAlign: "center",
            color: "#111",
            whiteSpace: "nowrap",
          }}
        >
          {title}
        </div>
      ))}
      {ROWS.map((_, r) => COLS.map((__, c) => <Panel key={`${r}-${c}`} row={r} col={c} />))}
      {LANDSCAPES.map((g, r) => (
        <Landscape key={r} grid={g} top={MAP_TOPS[r]} />
      ))}
      {ROWS.map((name, r) => (
        <Label key={name} text={name} x={1253} y={PANEL_Y[r] + 84} size={15.9} rotate={90} color="#666" />
      ))}
      <Label text="Weekly transmissions per moving host" x={18} y={374.5} size={21.2} rotate={-90} />
      <Label text="Proportion of pathogen extinctions" x={1121} y={374.5} size={20.7} rotate={90} />
      <Label text="Landscape scenario" x={1286} y={389} size={25} rotate={90} weight={700} />
      <Label text="Outbreak duration (years)" x={572} y={755} size={21.3} />
      <LegendKey x={406} color={ORANGE} fill="rgba(245,166,35,0.3)" />
      <Label text="Between-cluster" x={513.5} y={811} size={18.4} />
      <LegendKey x={594} color={PURPLE} fill="rgba(154,63,224,0.25)" />
      <Label text="Within-cluster" x={694.5} y={811} size={18.4} />
    </div>
  );
}
